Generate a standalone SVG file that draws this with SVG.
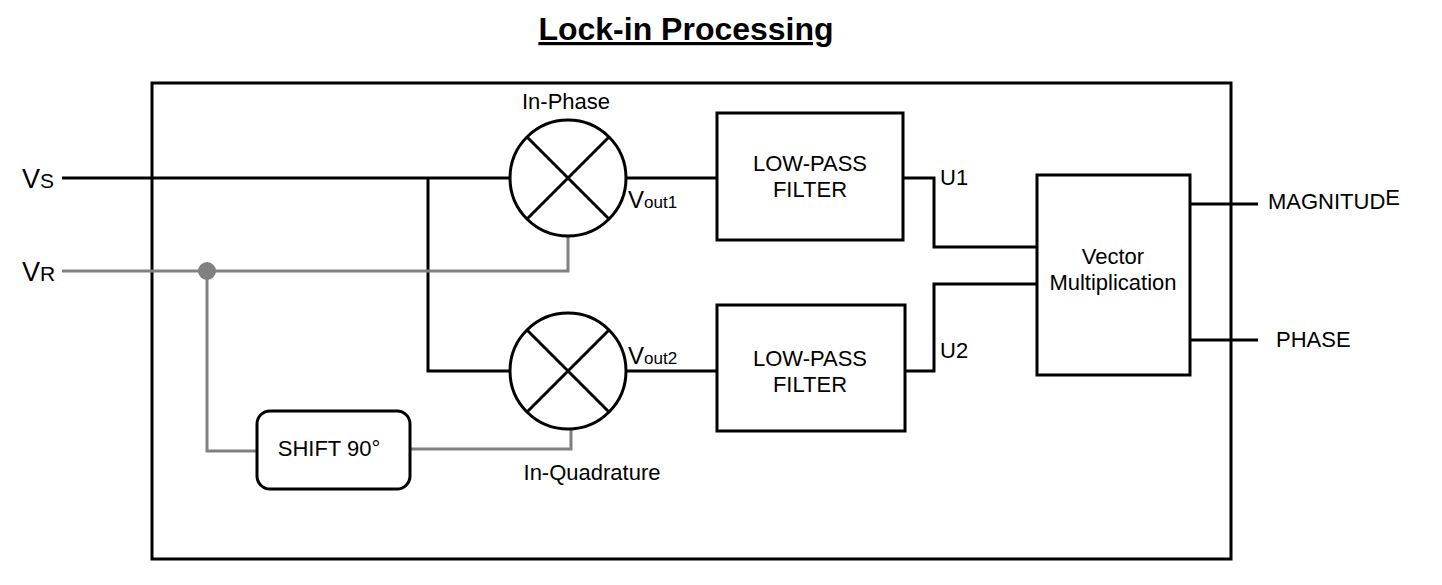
<svg xmlns="http://www.w3.org/2000/svg" width="1442" height="585" viewBox="0 0 1442 585">
<style>
text{font-family:"Liberation Sans",Arial,sans-serif;fill:#000}
.t{font-size:22px}
.k{stroke:#000;stroke-width:3;fill:none}
.g{stroke:#808080;stroke-width:3;fill:none}
.b{stroke:#000;stroke-width:3;fill:#fff}
</style>
<rect width="1442" height="585" fill="#fff"/>
<text x="686" y="40" text-anchor="middle" style="font-size:32px;font-weight:bold;text-decoration:underline">Lock-in Processing</text>
<rect id="frame" x="152" y="83" width="1079" height="476" class="k"/>
<g id="connectors">
<path class="k" d="M62 178H510M428 178V371H510M626 178H717M626 371H717M903 178H934V247H1037M905 371H934V284H1037M1190 204H1258M1190 340H1258"/>
<path class="g" d="M62 271H568V236M207 271V451H257M410 449H571V429"/>
<circle cx="207" cy="271" r="9" fill="#808080"/>
</g>
<g id="mixer1"><circle cx="568" cy="178" r="58" class="b"/><path class="k" d="M527 137L609 219M609 137L527 219"/></g>
<g id="mixer2"><circle cx="568" cy="371" r="58" class="b"/><path class="k" d="M527 330L609 412M609 330L527 412"/></g>
<g id="lpf1"><rect x="717" y="113" width="186" height="127" class="b"/><text class="t" x="810" y="171" text-anchor="middle">LOW-PASS</text><text class="t" x="810" y="197" text-anchor="middle">FILTER</text></g>
<g id="lpf2"><rect x="717" y="305" width="188" height="126" class="b"/><text class="t" x="810" y="366" text-anchor="middle">LOW-PASS</text><text class="t" x="810" y="392" text-anchor="middle">FILTER</text></g>
<g id="vm"><rect x="1037" y="175" width="153" height="200" class="b"/><text class="t" x="1113" y="264" text-anchor="middle">Vector</text><text class="t" x="1113" y="290" text-anchor="middle">Multiplication</text></g>
<g id="shift"><rect x="257" y="411" width="153" height="78" rx="13" class="b"/><text class="t" x="329" y="456" text-anchor="middle">SHIFT 90°</text></g>
<text class="t" x="566" y="109" text-anchor="middle">In-Phase</text>
<text class="t" x="592" y="480" text-anchor="middle">In-Quadrature</text>
<text x="22" y="188" style="font-size:27px">V<tspan style="font-size:21px">S</tspan></text>
<text x="22" y="281" style="font-size:27px">V<tspan style="font-size:21px">R</tspan></text>
<text x="628" y="208" style="font-size:24px">V<tspan style="font-size:17px">out1</tspan></text>
<text x="628" y="364" style="font-size:24px">V<tspan style="font-size:17px">out2</tspan></text>
<text class="t" x="940" y="185">U1</text>
<text class="t" x="940" y="358">U2</text>
<text class="t" x="1268" y="209">MAGNITUD<tspan dy="-4">E</tspan></text>
<text class="t" x="1276" y="347">PHASE</text>
</svg>
